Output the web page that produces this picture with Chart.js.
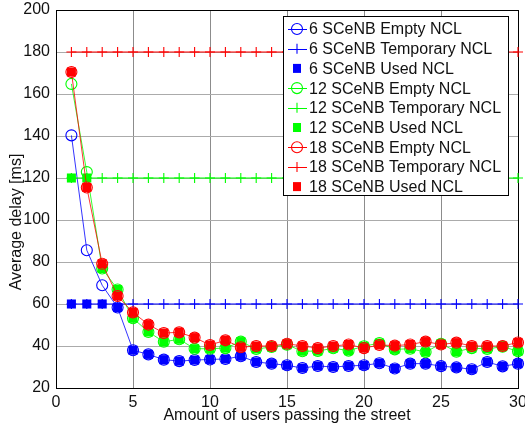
<!DOCTYPE html>
<html>
<head>
<meta charset="utf-8">
<script src="https://cdn.jsdelivr.net/npm/chart.js@4.4.1/dist/chart.umd.min.js"></script>
<style>
  html, body { margin: 0; padding: 0; background: #fff; }
  #wrap { width: 525px; height: 430px; position: relative; }
</style>
</head>
<body>
<div id="wrap"><canvas id="c"></canvas></div>
<script>
"use strict";

// x: amount of users passing the street
const USERS = [1,2,3,4,5,6,7,8,9,10,11,12,13,14,15,16,17,18,19,20,21,22,23,24,25,26,27,28,29,30];

// 6 SCeNB
const EMPTY_6 = [140.3,85.6,68.9,58.3,38,36,33.5,32.8,33.3,33.6,33.8,35.1,32.4,31.6,30.8,29.5,30.5,30,30.5,30.8,31.8,29.3,31.6,31.6,30.4,29.8,28.9,32.4,30.3,31.6];
const TEMP_6  = [60,60,60,60,60,60,60,60,60,60,60,60,60,60,60,60,60,60,60,60,60,60,60,60,60,60,60,60,60,60];
const USED_6  = [60,60,60,58.3,38,36,33.5,32.8,33.3,33.6,33.8,35.1,32.4,31.6,30.8,29.5,30.5,30,30.5,30.8,31.8,29.3,31.6,31.6,30.4,29.8,28.9,32.4,30.3,31.6];

// 12 SCeNB
const EMPTY_12 = [164.8,122.8,76.9,66.9,53.2,46.7,42,43.2,38.7,38.7,39,42.1,38.6,39.5,40.6,37.5,37.6,38.9,37.8,39.9,41.4,38.4,38.7,37.1,41.1,37.3,39,38.6,39.7,37.5];
const TEMP_12  = [120,120,120,120,120,120,120,120,120,120,120,120,120,120,120,120,120,120,120,120,120,120,120,120,120,120,120,120,120,120];
const USED_12  = [120,120,76.9,66.9,53.2,46.7,42,43.2,38.7,38.7,39,42.1,38.6,39.5,40.6,37.5,37.6,38.9,37.8,39.9,41.4,38.4,38.7,37.1,41.1,37.3,39,38.6,39.7,37.5];

// 18 SCeNB
const EMPTY_18 = [170.5,115.5,79.2,63.8,56,50.2,46.2,46.5,44,40.5,42.7,39.4,40,40,41.1,40,39,40,40.7,39,40.5,40.2,40.7,42.1,40.7,41.6,40,40,40,41.7];
const TEMP_18  = [180,180,180,180,180,180,180,180,180,180,180,180,180,180,180,180,180,180,180,180,180,180,180,180,180,180,180,180,180,180];
const USED_18  = [170.5,115.5,79.2,63.8,56,50.2,46.2,46.5,44,40.5,42.7,39.4,40,40,41.1,40,39,40,40.7,39,40.5,40.2,40.7,42.1,40.7,41.6,40,40,40,41.7];

const X_TICKS = [0, 5, 10, 15, 20, 25, 30];
const Y_TICKS = [20, 40, 60, 80, 100, 120, 140, 160, 180, 200];

const BLUE = "#0000ff", GREEN = "#00ff00", RED = "#ff0000";
const FONT = '"Liberation Sans", Arial, sans-serif';

Chart.defaults.font.family = FONT;
Chart.defaults.font.size = 16;
Chart.defaults.color = "#111";

const pts = arr => arr.map((v, i) => ({ x: USERS[i], y: v }));

function empty(label, data, color) {
  return { label, data: pts(data), borderColor: color, backgroundColor: "transparent",
           borderWidth: 0.8, pointStyle: "circle", pointRadius: 5.5, pointBorderWidth: 1.1,
           pointBorderColor: color, pointBackgroundColor: "transparent", kind: "empty" };
}
function temp(label, data, color) {
  return { label, data: pts(data), borderColor: color, borderWidth: 1.1,
           pointStyle: "cross", pointRadius: 5, pointBorderWidth: 1.1,
           pointBorderColor: color, kind: "temp" };
}
function used(label, data, color) {
  return { label, data: pts(data), showLine: false, borderColor: color,
           pointStyle: "rect", pointRadius: 6.4, pointBorderWidth: 0,
           pointBackgroundColor: color, backgroundColor: color, kind: "used" };
}

const datasets = [
  empty("6 SCeNB Empty NCL", EMPTY_6, BLUE),
  temp("6 SCeNB Temporary NCL", TEMP_6, BLUE),
  used("6 SCeNB Used NCL", USED_6, BLUE),
  empty("12 SCeNB Empty NCL", EMPTY_12, GREEN),
  temp("12 SCeNB Temporary NCL", TEMP_12, GREEN),
  used("12 SCeNB Used NCL", USED_12, GREEN),
  empty("18 SCeNB Empty NCL", EMPTY_18, RED),
  temp("18 SCeNB Temporary NCL", TEMP_18, RED),
  used("18 SCeNB Used NCL", USED_18, RED),
];
// later series on top, like the original plot
datasets.forEach((d, i) => { d.order = 20 - i; d.clip = false; d.tension = 0; });

/* ── axes box (under the data) and y label ───────────────────── */
const boxPlugin = {
  id: "box",
  beforeDatasetsDraw(chart) {
    const a = chart.chartArea, ctx = chart.ctx;
    ctx.save();
    ctx.strokeStyle = "#000";
    ctx.lineWidth = 1;
    ctx.strokeRect(Math.round(a.left) + 0.5, Math.round(a.top) + 0.5,
                   Math.round(a.right - a.left), Math.round(a.bottom - a.top));
    ctx.restore();
  },
  afterDraw(chart) {
    const ctx = chart.ctx;
    ctx.save();
    ctx.translate(17, 222);
    ctx.rotate(-Math.PI / 2);
    ctx.font = "16px " + FONT;
    ctx.fillStyle = "#111";
    ctx.textAlign = "center";
    ctx.textBaseline = "middle";
    ctx.fillText("Average delay [ms]", 0, 0);
    ctx.restore();
  },
};

/* ── legend box drawn inside the plot, on top of the lines ───── */
const legendPlugin = {
  id: "inLegend",
  afterDatasetsDraw(chart) {
    const ctx = chart.ctx;
    const x0 = 283, y0 = 16, w = 225, h = 179;
    ctx.save();
    ctx.fillStyle = "#fff";
    ctx.fillRect(x0, y0, w, h);
    ctx.strokeStyle = "#000";
    ctx.lineWidth = 1;
    ctx.strokeRect(x0 + 0.5, y0 + 0.5, w, h);
    ctx.font = "16px " + FONT;
    ctx.textBaseline = "middle";
    chart.data.datasets.forEach((d, i) => {
      const y = y0 + 13 + i * 19.7;
      const mx = 297;
      const color = d.borderColor;
      if (d.kind !== "used") {
        ctx.strokeStyle = color;
        ctx.lineWidth = 1;
        ctx.beginPath();
        ctx.moveTo(288, Math.round(y) + 0.5);
        ctx.lineTo(307, Math.round(y) + 0.5);
        ctx.stroke();
      }
      if (d.kind === "empty") {
        ctx.strokeStyle = color; ctx.lineWidth = 1.1;
        ctx.beginPath(); ctx.arc(mx, y, 5.5, 0, Math.PI * 2); ctx.stroke();
      } else if (d.kind === "temp") {
        ctx.strokeStyle = color; ctx.lineWidth = 1.1;
        ctx.beginPath(); ctx.moveTo(mx, y - 5); ctx.lineTo(mx, y + 5); ctx.stroke();
      } else {
        ctx.fillStyle = color;
        ctx.fillRect(mx - 4, y - 4.5, 8, 9);
      }
      ctx.fillStyle = "#111";
      ctx.fillText(d.label, 309, y + 1);
    });
    ctx.restore();
  },
};

new Chart(document.getElementById("c"), {
  type: "line",
  data: { datasets },
  plugins: [boxPlugin, legendPlugin],
  options: {
    responsive: true,
    maintainAspectRatio: false,
    animation: false,
    layout: { padding: { left: 0, right: 7, top: 10, bottom: 0 } },
    plugins: { legend: { display: false }, tooltip: { enabled: false } },
    scales: {
      x: {
        type: "linear", min: 0, max: 30,
        afterBuildTicks: s => { s.ticks = X_TICKS.map(v => ({ value: v })); },
        afterFit: s => { s.height = 42; s.paddingLeft = 0; s.paddingRight = 0; },
        grid: { color: "#8c8c8c", lineWidth: 1, drawTicks: false },
        border: { color: "#000" },
        ticks: { padding: 5, maxRotation: 0, autoSkip: false, color: "#111" },
        title: { display: true, text: "Amount of users passing the street", padding: { top: 0, bottom: 5 }, color: "#111" },
      },
      y: {
        type: "linear", min: 20, max: 200,
        afterBuildTicks: s => { s.ticks = Y_TICKS.map(v => ({ value: v })); },
        afterFit: s => { s.width = 56; s.paddingTop = 0; s.paddingBottom = 0; },
        grid: { color: "#ababab", lineWidth: 1, drawTicks: false },
        border: { color: "#000" },
        ticks: { padding: 6, autoSkip: false, color: "#111" },
      },
    },
  },
});
</script>
</body>
</html>
